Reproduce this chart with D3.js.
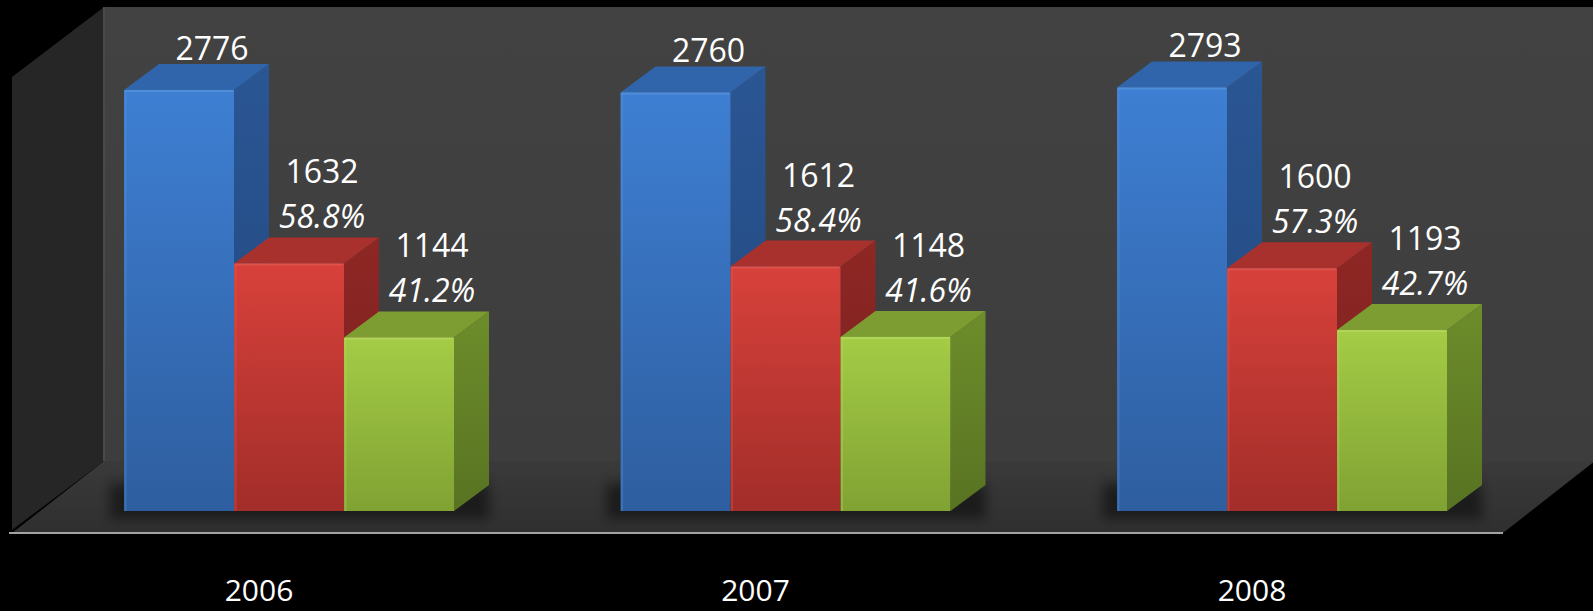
<!DOCTYPE html>
<html>
<head>
<meta charset="utf-8">
<script src="https://cdn.jsdelivr.net/npm/d3@7"></script>
<style>
  html, body { margin: 0; padding: 0; background: #000; }
  svg { display: block; }
  text { font-family: "Open Sans", "DejaVu Sans", sans-serif; fill: #fff; }
</style>
</head>
<body>
<svg id="chart" width="1593" height="611"></svg>
<script>
// Yearly totals and the two parts they split into
const years = ["2006", "2007", "2008"];
const series = ["total", "partA", "partB"];
const totalValues = [2776, 2760, 2793];
const partAValues = [1632, 1612, 1600];
const partBValues = [1144, 1148, 1193];
const partAShare = ["58.8%", "58.4%", "57.3%"];
const partBShare = ["41.2%", "41.6%", "42.7%"];

const W = 1593, H = 611;
const svg = d3.select("#chart");

// 3D projection offsets
const barDepth = { dx: 35, dy: -26 };
const wallDepth = { dx: 92, dy: -72 };

// Scales
const x = d3.scaleBand().domain(years).range([124, 1447]).paddingInner(0.3353).paddingOuter(0);
const xs = d3.scaleBand().domain(series).range([0, x.bandwidth()]).padding(0);
const y = d3.scaleLinear().domain([0, 3000]).range([511, 56]);

const floorFrontY = 533;
const floorLeft = 12, floorRight = 1503;
const wallTop = 7;

const defs = svg.append("defs");

function linGrad(id, stops, vertical = true) {
  const g = defs.append("linearGradient").attr("id", id)
    .attr("x1", 0).attr("y1", 0).attr("x2", vertical ? 0 : 1).attr("y2", vertical ? 1 : 0);
  stops.forEach(([o, c]) => g.append("stop").attr("offset", o).attr("stop-color", c));
}

const palette = {
  total: { front: ["#3e7fd3", "#2e5e9f"], side: ["#2a5694", "#22477c"], top: "#3065ab", edge: "#5a95dd" },
  partA: { front: ["#d8413b", "#a22d29"], side: ["#8e2724", "#762020"], top: "#a9312d", edge: "#e25a52" },
  partB: { front: ["#a4cc46", "#80a233"], side: ["#6d8d2b", "#587322"], top: "#7d9d33", edge: "#b7da62" }
};
series.forEach(s => {
  linGrad(`front-${s}`, [[0, palette[s].front[0]], [1, palette[s].front[1]]]);
  linGrad(`side-${s}`, [[0, palette[s].side[0]], [1, palette[s].side[1]]]);
});
linGrad("wallGrad", [[0, "#424242"], [1, "#3d3d3d"]]);
linGrad("floorGrad", [[0, "#3a3a3a"], [1, "#2f2f2f"]]);

defs.append("filter").attr("id", "soft").attr("x", "-20%").attr("y", "-50%").attr("width", "140%").attr("height", "200%")
  .append("feGaussianBlur").attr("stdDeviation", 6);

// Background walls and floor
const backBottom = floorFrontY + wallDepth.dy;
svg.append("polygon")
  .attr("points", [[floorLeft + wallDepth.dx, wallTop], [W + 5, wallTop], [W + 5, backBottom], [floorLeft + wallDepth.dx, backBottom]].join(" "))
  .attr("fill", "url(#wallGrad)");
svg.append("polygon")
  .attr("points", [[floorLeft + wallDepth.dx, wallTop], [floorLeft, wallTop - wallDepth.dy - 2], [floorLeft, floorFrontY - 3], [floorLeft + wallDepth.dx, backBottom]].join(" "))
  .attr("fill", "#262626");
svg.append("polygon")
  .attr("points", [[floorLeft + wallDepth.dx, backBottom], [floorRight + wallDepth.dx, backBottom], [floorRight, floorFrontY], [floorLeft, floorFrontY]].join(" "))
  .attr("fill", "url(#floorGrad)");
svg.append("line")
  .attr("x1", floorLeft + wallDepth.dx).attr("y1", wallTop)
  .attr("x2", floorLeft + wallDepth.dx).attr("y2", backBottom)
  .attr("stroke", "#4a4a4a").attr("stroke-width", 2);
svg.append("line")
  .attr("x1", floorLeft - 3).attr("x2", floorRight).attr("y1", floorFrontY).attr("y2", floorFrontY)
  .attr("stroke", "#a3a3a3").attr("stroke-width", 2);

// Soft shadows under each group
svg.append("g").selectAll("rect").data(years).join("rect")
  .attr("x", d => x(d) - 14)
  .attr("y", y(0) + barDepth.dy - 2)
  .attr("width", x.bandwidth() + barDepth.dx + 14)
  .attr("height", -barDepth.dy + 10)
  .attr("fill", "#000").attr("opacity", 0.45)
  .attr("filter", "url(#soft)");

// Bars
const rows = years.map((yr, i) => ({
  year: yr,
  bars: [
    { key: "total", value: totalValues[i] },
    { key: "partA", value: partAValues[i], share: partAShare[i] },
    { key: "partB", value: partBValues[i], share: partBShare[i] }
  ]
}));

const groups = svg.append("g").selectAll("g").data(rows).join("g")
  .attr("transform", d => `translate(${x(d.year)},0)`);

groups.each(function (row) {
  const g = d3.select(this);
  row.bars.forEach(b => {
    const x0 = xs(b.key), w = xs.bandwidth();
    const yt = y(b.value), yb = y(0);
    const dx = barDepth.dx, dy = barDepth.dy;
    const bar = g.append("g");
    // right side face
    bar.append("polygon")
      .attr("points", [[x0 + w, yt], [x0 + w + dx, yt + dy], [x0 + w + dx, yb + dy], [x0 + w, yb]].join(" "))
      .attr("fill", `url(#side-${b.key})`);
    // top face
    bar.append("polygon")
      .attr("points", [[x0, yt], [x0 + dx, yt + dy], [x0 + w + dx, yt + dy], [x0 + w, yt]].join(" "))
      .attr("fill", palette[b.key].top);
    // front face
    bar.append("rect")
      .attr("x", x0).attr("y", yt).attr("width", w).attr("height", yb - yt)
      .attr("fill", `url(#front-${b.key})`);
    // bevel highlights
    bar.append("line")
      .attr("x1", x0 + 1).attr("x2", x0 + w - 1).attr("y1", yt + 1).attr("y2", yt + 1)
      .attr("stroke", palette[b.key].edge).attr("stroke-width", 2).attr("opacity", 0.7);
    bar.append("line")
      .attr("x1", x0 + 1.5).attr("x2", x0 + 1.5).attr("y1", yt + 1).attr("y2", yb)
      .attr("stroke", palette[b.key].edge).attr("stroke-width", 2).attr("opacity", 0.35);
  });

  // value labels
  row.bars.forEach(b => {
    const cx = xs(b.key) + xs.bandwidth() / 2 + 33;
    const backTop = y(b.value) + barDepth.dy;
    if (b.share) {
      g.append("text").attr("x", cx).attr("y", backTop - 9)
        .attr("text-anchor", "middle").attr("font-size", 32).attr("font-style", "italic")
        .text(b.share);
      g.append("text").attr("x", cx).attr("y", backTop - 54)
        .attr("text-anchor", "middle").attr("font-size", 32)
        .text(b.value);
    } else {
      g.append("text").attr("x", cx).attr("y", backTop - 4)
        .attr("text-anchor", "middle").attr("font-size", 32)
        .text(b.value);
    }
  });
});

// Category axis
const axis = d3.axisBottom(x).tickSize(0).tickPadding(0);
const ax = svg.append("g")
  .attr("transform", `translate(-30, 580)`)
  .call(axis);
ax.select(".domain").remove();
ax.selectAll("text")
  .attr("font-size", 30)
  .attr("fill", "#fff")
  .attr("dy", "0.7em");
</script>
</body>
</html>
